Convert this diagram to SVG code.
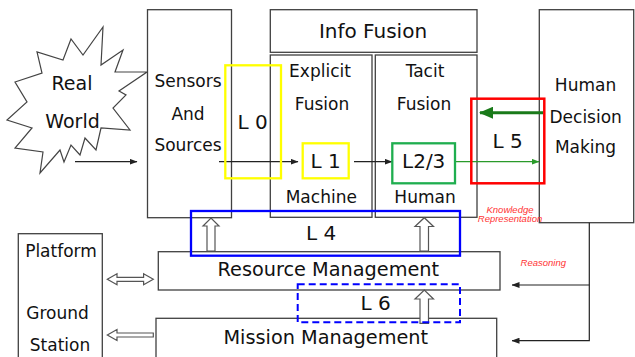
<svg xmlns="http://www.w3.org/2000/svg" width="635" height="357" viewBox="0 0 635 357">
<defs>
<style>
.box{fill:#fff;stroke:#404040;stroke-width:1.3}
.t{font-family:"DejaVu Sans",Verdana,sans-serif;fill:#111;text-anchor:middle}
.s17{font-size:17px}
.s19{font-size:19px}
.s20{font-size:20px}
.red{font-family:"Liberation Sans",Arial,sans-serif;font-style:italic;font-size:9.5px;fill:#ff3333;text-anchor:middle}
.ln{stroke:#222;stroke-width:1.2;fill:none}
.hollow{fill:#fff;stroke:#555;stroke-width:1.2}
.lvl{fill:none}
</style>
<marker id="ah" markerWidth="8" markerHeight="6" refX="7.5" refY="3" orient="auto" markerUnits="userSpaceOnUse">
<path d="M0,0 L8,3 L0,6 Z" fill="#222"/>
</marker>
<marker id="ahg" markerWidth="8" markerHeight="6" refX="7.5" refY="3" orient="auto" markerUnits="userSpaceOnUse">
<path d="M0,0 L8,3 L0,6 Z" fill="#2a9a2a"/>
</marker>
<marker id="ahgb" markerWidth="14" markerHeight="12" refX="13" refY="6" orient="auto" markerUnits="userSpaceOnUse">
<path d="M0,0 L14,6 L0,12 Z" fill="#1a7a1a"/>
</marker>
</defs>

<g id="real-world">
<polygon points="103,27 101,65 123,50 115,72 147,72 119,91 126,95 113,108 130,130 101,128 96,150 85,138 80,155 71,145 64,162 60,150 40,173 43,152 15,148 32,128 7,120 27,102 15,82 42,73 37,52 63,60 71,39 83,55" fill="#fff" stroke="#444" stroke-width="1.2"/>
<text class="t s19" x="72" y="90">Real</text>
<text class="t s19" x="72.5" y="128.3">World</text>
</g>

<g id="sensors">
<rect class="box" x="147.5" y="9.7" width="84" height="208"/>
<text class="t s17" x="188" y="87.3">Sensors</text>
<text class="t s17" x="188" y="120">And</text>
<text class="t s17" x="188" y="150.7">Sources</text>
</g>

<g id="info-fusion">
<rect class="box" x="270.3" y="9.7" width="206.7" height="42.6"/>
<rect class="box" x="270.3" y="55" width="101.7" height="162.3"/>
<rect class="box" x="375.3" y="55" width="101.7" height="162.3"/>
<text class="t s20" x="373" y="38.3">Info Fusion</text>
<text class="t s17" x="320" y="77.3">Explicit</text>
<text class="t s17" x="322" y="110">Fusion</text>
<text class="t s17" x="321.3" y="203.3">Machine</text>
<text class="t s17" x="425" y="77.3">Tacit</text>
<text class="t s17" x="424" y="110">Fusion</text>
<text class="t s17" x="425" y="203.3">Human</text>
</g>

<g id="human-decision">
<rect class="box" x="539.3" y="9.7" width="94.4" height="213"/>
<text class="t s17" x="585.5" y="90.7">Human</text>
<text class="t s17" x="585.7" y="122.7">Decision</text>
<text class="t s17" x="585.5" y="153.3">Making</text>
</g>

<g id="platform">
<rect class="box" x="18.3" y="233.7" width="84" height="130"/>
<text class="t s17" x="61" y="256.7">Platform</text>
<text class="t s17" x="57.5" y="319.3">Ground</text>
<text class="t s17" x="60" y="350.7">Station</text>
</g>

<g id="resource-management">
<rect class="box" x="158.3" y="251.7" width="341.7" height="38.3"/>
<text class="t" style="font-size:19.3px" x="328.3" y="276">Resource Management</text>
</g>

<g id="mission-management">
<rect class="box" x="156" y="318.3" width="340.7" height="45"/>
<text class="t" style="font-size:19.3px" x="325.8" y="344.3">Mission Management</text>
</g>

<g id="connectors">
<line class="ln" x1="75" y1="161.7" x2="137" y2="161.7" marker-end="url(#ah)"/>
<line class="ln" x1="219" y1="161.7" x2="298" y2="161.7" marker-end="url(#ah)"/>
<line class="ln" x1="354" y1="161.7" x2="392" y2="161.7" marker-end="url(#ah)"/>
<line x1="455" y1="161.7" x2="539" y2="161.7" stroke="#2a9a2a" stroke-width="1.2" marker-end="url(#ahg)"/>
<line x1="543" y1="112.7" x2="480" y2="112.7" stroke="#1a7a1a" stroke-width="3" marker-end="url(#ahgb)"/>
<polyline class="ln" points="589.3,222.7 589.3,340.7 512,340.7" marker-end="url(#ah)"/>
<line class="ln" x1="589.3" y1="285" x2="512" y2="285" marker-end="url(#ah)"/>
<polygon class="hollow" points="207,251 207,226 203,226 211,218 219,226 215,226 215,251"/>
<polygon class="hollow" points="420,251 420,226.5 415,226.5 424.3,217.7 433.5,226.5 428.5,226.5 428.5,251"/>
<polygon class="hollow" points="420,323.3 420,299 415,299 424.3,290 433.5,299 428.5,299 428.5,323.3"/>
<polygon class="hollow" points="107.3,279.3 117,273.8 117,277.3 143.6,277.3 143.6,273.8 153.3,279.3 143.6,284.8 143.6,281.3 117,281.3 117,284.8"/>
<polygon class="hollow" points="107.3,335 117,329.5 117,333 153.3,333 153.3,337 117,337 117,340.5"/>
</g>

<g id="levels">
<rect id="L0" x="225.3" y="65.3" width="55.7" height="113" fill="none" stroke="#ffff00" stroke-width="2.3"/>
<text class="t s20" x="252.5" y="129.3">L 0</text>
<rect id="L1" x="302.7" y="143.3" width="46" height="35" fill="none" stroke="#ffff00" stroke-width="2.3"/>
<text class="t s20" x="325.7" y="168">L 1</text>
<rect id="L23" x="392.3" y="143.3" width="62.7" height="40" fill="none" stroke="#1fae4f" stroke-width="2.3"/>
<text class="t s20" x="423.7" y="168">L2/3</text>
<rect id="L5" x="471.3" y="98.7" width="73" height="84.6" fill="none" stroke="#ff0000" stroke-width="2.5"/>
<text class="t s20" x="507.5" y="148.3">L 5</text>
<rect id="L4" x="191" y="211" width="269" height="44.7" fill="none" stroke="#0000ff" stroke-width="2.3"/>
<text class="t s20" x="321" y="240">L 4</text>
<rect id="L6" x="297.7" y="284.3" width="162.3" height="38" fill="none" stroke="#0000ff" stroke-width="2" stroke-dasharray="7,4"/>
<text class="t s20" x="375.5" y="310">L 6</text>
</g>

<g id="labels">
<text class="red" x="510" y="212.7">Knowledge</text>
<text class="red" x="510" y="222.3">Representation</text>
<text class="red" x="543.3" y="266">Reasoning</text>
</g>
</svg>
